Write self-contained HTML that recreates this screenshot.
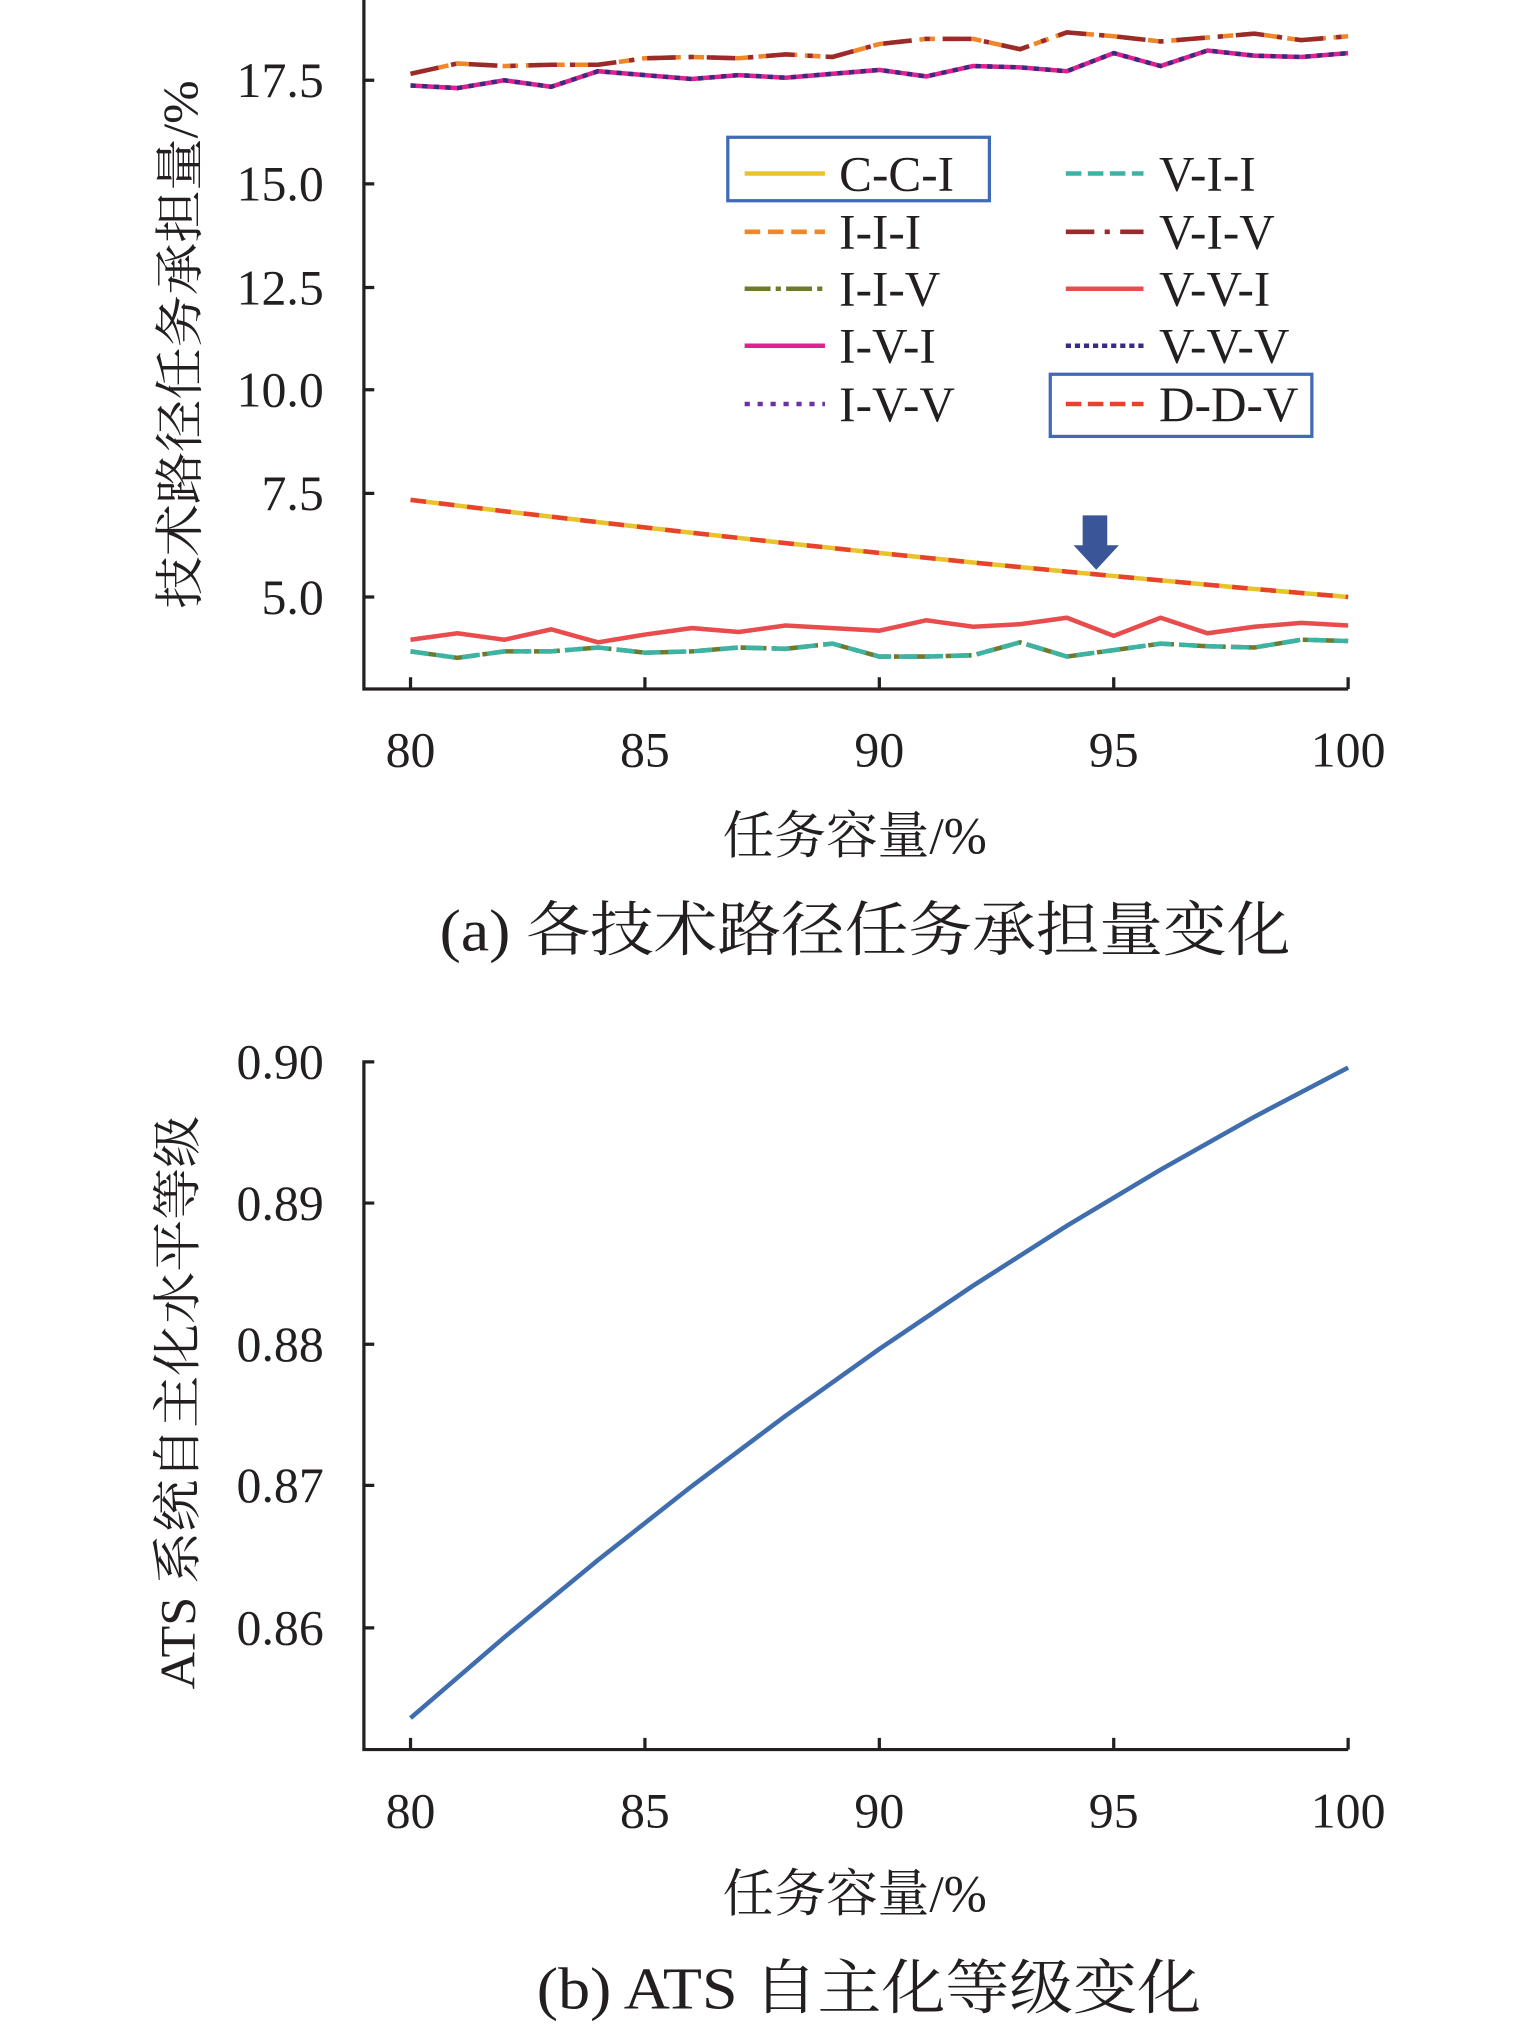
<!DOCTYPE html>
<html><head><meta charset="utf-8"><style>html,body{margin:0;padding:0;background:#fff}svg{display:block}svg text{font-family:"Liberation Serif","Noto Serif CJK SC",serif}</style></head><body>
<svg width="1535" height="2032" viewBox="0 0 1185.3 1569.1" preserveAspectRatio="none" xmlns="http://www.w3.org/2000/svg" fill="#231f20">
<g stroke="#231f20" stroke-width="2.5" fill="none">
<path d="M281,0 V532 H1041"/>
<path d="M281,62 h8 M281,142 h8 M281,222 h8 M281,301 h8 M281,381 h8 M281,461 h8"/>
<path d="M317,532 v-9 M498,532 v-9 M679,532 v-9 M860,532 v-9 M1041,532 v-9"/>
<path d="M289,820 H281 V1351 H1041"/>
<path d="M281,929 h8 M281,1038 h8 M281,1147 h8 M281,1257 h8"/>
<path d="M317,1351 v-9 M498,1351 v-9 M679,1351 v-9 M860,1351 v-9 M1041,1351 v-9"/>
</g>
<g font-size="38.5" text-anchor="end">
<text x="250" y="75">17.5</text><text x="250" y="155">15.0</text><text x="250" y="235">12.5</text><text x="250" y="314">10.0</text><text x="250" y="394">7.5</text><text x="250" y="474">5.0</text>
<text x="250" y="833">0.90</text><text x="250" y="942">0.89</text><text x="250" y="1051">0.88</text><text x="250" y="1160">0.87</text><text x="250" y="1270">0.86</text>
</g>
<g font-size="38.5" text-anchor="middle">
<text x="317" y="592">80</text><text x="498" y="592">85</text><text x="679" y="592">90</text><text x="860" y="592">95</text><text x="1041" y="592">100</text>
<text x="317" y="1411">80</text><text x="498" y="1411">85</text><text x="679" y="1411">90</text><text x="860" y="1411">95</text><text x="1041" y="1411">100</text>
</g>
<text font-size="38" text-anchor="middle" transform="translate(152,266) rotate(-90)" textLength="408" lengthAdjust="spacingAndGlyphs">技术路径任务承担量/%</text>
<text font-size="38" text-anchor="middle" transform="translate(150,1083) rotate(-90)" textLength="443" lengthAdjust="spacingAndGlyphs">ATS 系统自主化水平等级</text>
<text x="660" y="659" font-size="40" text-anchor="middle" textLength="204" lengthAdjust="spacingAndGlyphs">任务容量/%</text>
<text x="660" y="1476" font-size="40" text-anchor="middle" textLength="204" lengthAdjust="spacingAndGlyphs">任务容量/%</text>
<text x="668" y="734" font-size="46" text-anchor="middle" textLength="657" lengthAdjust="spacingAndGlyphs">(a) 各技术路径任务承担量变化</text>
<text x="671" y="1551" font-size="46" text-anchor="middle" textLength="513" lengthAdjust="spacingAndGlyphs">(b) ATS 自主化等级变化</text>
<g fill="none" stroke-width="3.5">
<polyline stroke="#F0862A" stroke-dasharray="12,6" points="317,57 353.2,49 389.4,51 425.6,50 461.8,50 498,45 534.2,44 570.4,45 606.6,42 642.8,44 679,34 715.2,30 751.4,30 787.6,38 823.8,25 860,28 896.2,32 932.4,29 968.6,26 1004.8,31 1041,28"/>
<polyline stroke="#9B2A2A" stroke-dasharray="22,10,4,10" points="317,57 353.2,49 389.4,51 425.6,50 461.8,50 498,45 534.2,44 570.4,45 606.6,42 642.8,44 679,34 715.2,30 751.4,30 787.6,38 823.8,25 860,28 896.2,32 932.4,29 968.6,26 1004.8,31 1041,28"/>
<polyline stroke="#E0208F" points="317,66 353.2,68 389.4,62 425.6,67 461.8,55 498,58 534.2,61 570.4,58 606.6,60 642.8,57 679,54 715.2,59 751.4,51 787.6,52 823.8,55 860,41 896.2,51 932.4,39 968.6,43 1004.8,44 1041,41"/>
<polyline stroke="#3A2A80" stroke-dasharray="4,5" points="317,66 353.2,68 389.4,62 425.6,67 461.8,55 498,58 534.2,61 570.4,58 606.6,60 642.8,57 679,54 715.2,59 751.4,51 787.6,52 823.8,55 860,41 896.2,51 932.4,39 968.6,43 1004.8,44 1041,41"/>
<polyline stroke="#E8C32E" points="317,386 389.4,394.8 461.8,403.2 534.2,411.4 606.6,419.4 679,427 751.4,434.4 823.8,441.4 896.2,448.2 968.6,454.8 1041,461"/>
<polyline stroke="#E8412E" stroke-dasharray="12,10" points="317,386 389.4,394.8 461.8,403.2 534.2,411.4 606.6,419.4 679,427 751.4,434.4 823.8,441.4 896.2,448.2 968.6,454.8 1041,461"/>
<polyline stroke="#E84C4C" points="317,494 353.2,489 389.4,494 425.6,486 461.8,496 498,490 534.2,485 570.4,488 606.6,483 642.8,485 679,487 715.2,479 751.4,484 787.6,482 823.8,477 860,491 896.2,477 932.4,489 968.6,484 1004.8,481 1041,483"/>
<polyline stroke="#6F7A2A" stroke-dasharray="20,4,4,4" points="317,503 353.2,508 389.4,503 425.6,503 461.8,500 498,504 534.2,503 570.4,500 606.6,501 642.8,497 679,507 715.2,507 751.4,506 787.6,496 823.8,507 860,502 896.2,497 932.4,499 968.6,500 1004.8,494 1041,495"/>
<polyline stroke="#3DB3A3" stroke-dasharray="14,6" points="317,503 353.2,508 389.4,503 425.6,503 461.8,500 498,504 534.2,503 570.4,500 606.6,501 642.8,497 679,507 715.2,507 751.4,506 787.6,496 823.8,507 860,502 896.2,497 932.4,499 968.6,500 1004.8,494 1041,495"/>
<polyline stroke="#3F6DAE" points="317,1326.7 389.4,1264.3 461.8,1204.6 534.2,1147.6 606.6,1093.3 679,1041.7 751.4,992.8 823.8,946.6 896.2,903.2 968.6,862.4 1041,824.4"/>
</g>
<polygon fill="#3A5699" points="836,398 855,398 855,421 864,421 846.5,440 829,421 836,421"/>
<g fill="none" stroke-width="3.5">
<rect x="562" y="106" width="202" height="49" stroke="#3F6AB5" stroke-width="2.5"/>
<rect x="811" y="289" width="202" height="48" stroke="#3F6AB5" stroke-width="2.5"/>
<path d="M575,134 H637" stroke="#E8C32E"/>
<path d="M575,179 H637" stroke="#F0862A" stroke-dasharray="12,6"/>
<path d="M575,223 H637" stroke="#6F7A2A" stroke-dasharray="20,4,4,4"/>
<path d="M575,267 H637" stroke="#E0208F"/>
<path d="M575,312 H637" stroke="#7030A0" stroke-dasharray="4,6"/>
<path d="M823,134 H883" stroke="#3DB3A3" stroke-dasharray="12,5"/>
<path d="M823,179 H883" stroke="#9B2A2A" stroke-dasharray="22,8,4,8"/>
<path d="M823,223 H883" stroke="#E84C4C"/>
<path d="M823,267 H883" stroke="#3A2A80" stroke-dasharray="4,3"/>
<path d="M823,312 H883" stroke="#E8412E" stroke-dasharray="12,5"/>
</g>
<g font-size="38">
<text x="648" y="147">C-C-I</text><text x="648" y="192">I-I-I</text><text x="648" y="236">I-I-V</text><text x="648" y="280">I-V-I</text><text x="648" y="325">I-V-V</text>
<text x="895" y="147">V-I-I</text><text x="895" y="192">V-I-V</text><text x="895" y="236">V-V-I</text><text x="895" y="280">V-V-V</text><text x="895" y="325">D-D-V</text>
</g>
</svg>
</body></html>
